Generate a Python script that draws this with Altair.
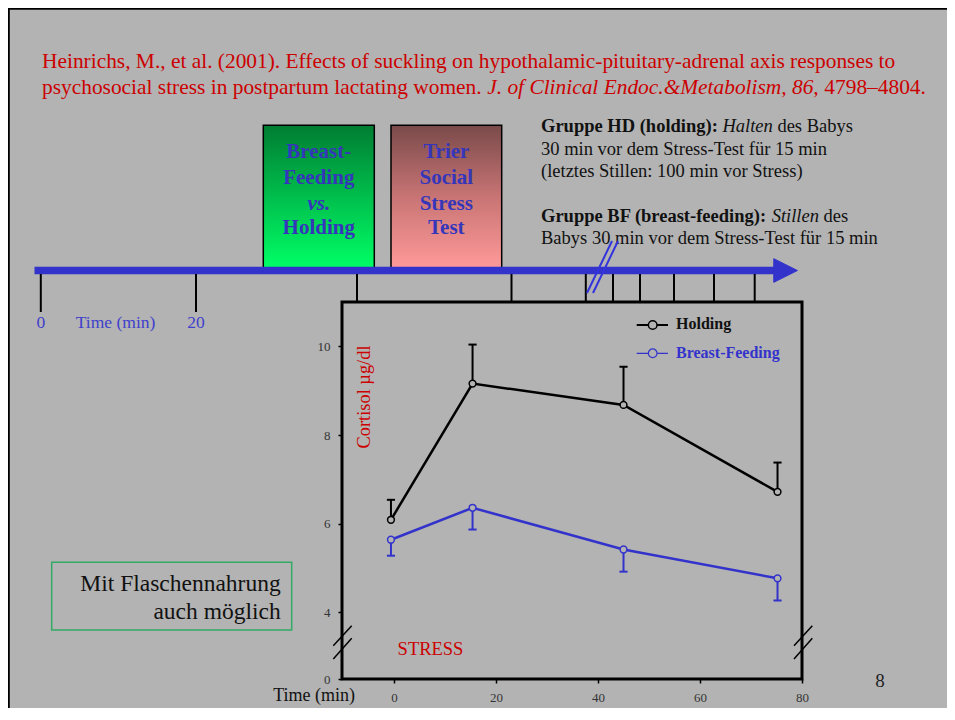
import altair as alt
import pandas as pd

# ---------------- data ----------------
groups = ["Holding", "Breast-Feeding"]
times = [-0.6, 15.4, 45.0, 75.2]
holding_mean = [6.09, 9.16, 8.68, 6.72]
holding_upper = [6.54, 10.04, 9.54, 7.38]
bf_mean = [5.64, 6.36, 5.42, 4.77]
bf_lower = [5.28, 5.87, 4.92, 4.27]
x_ticks = [0, 20, 40, 60, 80]
y_ticks = [4, 6, 8, 10]
y_break_value = 2.5  # bottom of the broken axis, labelled "0"

title_line1 = "Heinrichs, M., et al. (2001). Effects of suckling on hypothalamic-pituitary-adrenal axis responses to"
title_line2a = "psychosocial stress in postpartum lactating women."
title_line2b = "J. of Clinical Endoc.&Metabolism, 86,"
title_line2c = "4798\u20134804."

BG = "#b3b3b3"
BLUE = "#3333cc"
TXTBLUE = "#3636bb"
RED = "#cc0000"
SERIF = "Liberation Serif"

rows = []
for t, m, e in zip(times, holding_mean, holding_upper):
    rows.append({"group": "Holding", "t": t, "v": m, "e": e})
for t, m, e in zip(times, bf_mean, bf_lower):
    rows.append({"group": "Breast-Feeding", "t": t, "v": m, "e": e})
df = pd.DataFrame(rows)

one = pd.DataFrame({"k": [0]})

# page coordinates of the plot frame's top-left corner
OX, OY = 342, 302
def px(x):
    return x - OX
def py(y):
    return y - OY

xs = alt.Scale(domain=[-10.2, 80], nice=False, zero=False)
ys = alt.Scale(domain=[2.5, 11.0], nice=False, zero=False)
cscale = alt.Scale(domain=groups, range=["#000000", BLUE])

x_axis = alt.Axis(values=x_ticks, title=None, domain=False, grid=False, ticks=True,
                  tickSize=4, tickWidth=1.5, tickColor="black", labelFont=SERIF,
                  labelFontSize=13, labelColor="#333333", labelPadding=8, labelFlush=False)
y_axis = alt.Axis(values=[y_break_value] + y_ticks,
                  labelExpr="datum.value < 3 ? '0' : datum.label",
                  title=None, domain=False, grid=False, ticks=True, tickSize=4,
                  tickWidth=1.5, tickColor="black", labelFont=SERIF, labelFontSize=13,
                  labelColor="#333333", labelPadding=8)

C = alt.Color("group:N", scale=cscale, legend=None)
base = alt.Chart(df)

lines = base.mark_line(strokeWidth=2.5).encode(
    x=alt.X("t:Q", scale=xs, axis=x_axis), y=alt.Y("v:Q", scale=ys, axis=y_axis), color=C)
stems = base.mark_rule(strokeWidth=2).encode(
    x=alt.X("t:Q", scale=xs, axis=x_axis), y=alt.Y("v:Q", scale=ys, axis=y_axis), y2="e:Q", color=C)
caps = base.transform_calculate(xl="datum.t - 0.8", xr="datum.t + 0.8").mark_rule(strokeWidth=2).encode(
    x=alt.X("xl:Q", scale=xs, axis=x_axis), x2="xr:Q", y=alt.Y("e:Q", scale=ys, axis=y_axis), color=C)
points = base.mark_point(filled=False, fill=BG, fillOpacity=1, opacity=1, size=46, strokeWidth=1.5).encode(
    x=alt.X("t:Q", scale=xs, axis=x_axis), y=alt.Y("v:Q", scale=ys, axis=y_axis), color=C)

deco = []

def txt(s, x, y, size, color="#111111", weight="normal", style="normal", align="left", angle=0):
    deco.append(alt.Chart(one).mark_text(text=s, font=SERIF, fontSize=size, color=color,
                                          fontWeight=weight, fontStyle=style, align=align,
                                          baseline="middle", angle=angle).encode(
        x=alt.value(px(x)), y=alt.value(py(y))))

def seg(x1, y1, x2, y2, color="black", width=2.0):
    deco.append(alt.Chart(one).mark_rule(color=color, strokeWidth=width).encode(
        x=alt.value(px(x1)), y=alt.value(py(y1)), x2=alt.value(px(x2)), y2=alt.value(py(y2))))

def box(x1, y1, x2, y2, fill, stroke, width):
    kw = dict(stroke=stroke, strokeWidth=width)
    if fill is None:
        kw["fillOpacity"] = 0
        kw["fill"] = BG
    else:
        kw["fill"] = fill
    deco.append(alt.Chart(one).mark_rect(**kw).encode(
        x=alt.value(px(x1)), x2=alt.value(px(x2)), y=alt.value(py(y1)), y2=alt.value(py(y2))))

def sym(x, y, shape, size, fill, stroke, width):
    deco.append(alt.Chart(one).mark_point(shape=shape, size=size, fill=fill, fillOpacity=1,
                                           stroke=stroke, strokeWidth=width, opacity=1).encode(
        x=alt.value(px(x)), y=alt.value(py(y))))

# slide border (top and left)
seg(0, 8.8, 960, 8.8, "black", 2)
seg(8.8, 0, 8.8, 720, "black", 2)

# title
txt(title_line1, 42, 62, 21.4, RED)
txt(title_line2a, 42, 88, 21.4, RED)
txt(title_line2b, 487.2, 88, 21.4, RED, style="italic")
txt(title_line2c, 824.3, 88, 21.4, RED)

# gradient boxes
green_grad = alt.Gradient(gradient="linear", x1=0, y1=0, x2=0, y2=1, stops=[
    alt.GradientStop(offset=0, color="#007d32"), alt.GradientStop(offset=1, color="#00ff66")])
pink_grad = alt.Gradient(gradient="linear", x1=0, y1=0, x2=0, y2=1, stops=[
    alt.GradientStop(offset=0, color="#7a4a4a"), alt.GradientStop(offset=0.5, color="#c87474"),
    alt.GradientStop(offset=1, color="#ff9999")])
box(263.3, 125.3, 374.3, 268, green_grad, "black", 1.5)
box(391, 125.3, 501.7, 268, pink_grad, "black", 1.5)
for s, yy, st in [("Breast-", 152.3, "normal"), ("Feeding", 178.3, "normal"),
                  ("vs.", 204, "italic"), ("Holding", 228.3, "normal")]:
    txt(s, 318.8, yy, 21, TXTBLUE, weight="bold", style=st, align="center")
for s, yy in [("Trier", 152.3), ("Social", 178.3), ("Stress", 204), ("Test", 228.3)]:
    txt(s, 446.3, yy, 21, TXTBLUE, weight="bold", align="center")

# group descriptions
RS = 18.5
txt("Gruppe HD (holding):", 541, 126, RS, weight="bold")
txt("Halten", 722.4, 126, RS, style="italic")
txt("des Babys", 777.4, 126, RS)
txt("30 min vor dem Stress-Test f\u00fcr 15 min", 541, 148.5, RS)
txt("(letztes Stillen: 100 min vor Stress)", 541, 171, RS)
txt("Gruppe BF (breast-feeding):", 541, 216, RS, weight="bold")
txt("Stillen", 771.7, 216, RS, style="italic")
txt("des", 823.6, 216, RS)
txt("Babys 30 min vor dem Stress-Test f\u00fcr 15 min", 541, 238, RS)

# timeline
seg(34.5, 270.5, 777, 270.5, BLUE, 7.5)
sym(785.6, 270.5, "M -1 -1 L 1 0 L -1 1 Z", 560, BLUE, BLUE, 1)
for xx in [40.8, 196]:
    seg(xx, 274, xx, 312, "black", 2)
for xx in [357, 511.5, 585.8, 613, 640, 674, 714, 754.7]:
    seg(xx, 274, xx, 302, "black", 2)
seg(587, 293, 612, 241, "#3333dd", 2)
seg(593, 293, 618, 241, "#3333dd", 2)
txt("0", 40.8, 323.3, 17.5, "#4040cc", align="center")
txt("Time (min)", 75.8, 323.3, 17.5, "#4040cc")
txt("20", 196, 323.3, 17.5, "#4040cc", align="center")

# inside-plot annotations
txt("Cortisol \u00b5g/dl", 364, 397, 18.4, RED, align="center", angle=270)
txt("STRESS", 430.5, 649.3, 18.5, RED, align="center")
txt("Time (min)", 355, 696, 18, "#111111", align="right")

# legend
seg(636.7, 325, 668, 325, "black", 2)
sym(652.7, 325, "circle", 75, BG, "black", 1.5)
txt("Holding", 676, 324.3, 16, "#111111", weight="bold")
seg(636.7, 353.3, 668, 353.3, BLUE, 1.2)
sym(652.7, 353.3, "circle", 75, BG, BLUE, 1.2)
txt("Breast-Feeding", 676, 353.3, 16, BLUE, weight="bold")

# axis breaks
seg(333.3, 645.7, 351.7, 625.7, "black", 1.5)
seg(333.3, 659, 351.7, 638.3, "black", 1.5)
seg(794, 645.7, 812.3, 625.7, "black", 1.5)
seg(794, 659, 812.3, 638.3, "black", 1.5)

# bottom-left note
box(51.7, 562.3, 291.7, 630, None, "#33aa66", 1.5)
txt("Mit Flaschennahrung", 280.7, 584.3, 23.5, "#111111", align="right")
txt("auch m\u00f6glich", 280.7, 611.7, 23.5, "#111111", align="right")

# page number
txt("8", 880, 681, 19, "#222222", align="center")

W, H = 460, 377
TOTAL_W, TOTAL_H = 939, 700
chart = alt.layer(lines, stems, caps, points, *deco).properties(
    width=W, height=H,
    background=BG,
    autosize=alt.AutoSizeParams(type="none"),
    padding={"left": 334, "top": 294, "right": TOTAL_W - 334 - W, "bottom": TOTAL_H - 294 - H},
).configure_view(stroke="black", strokeWidth=3)

chart.save("out.html", embed_options={"renderer": "svg", "actions": False})
